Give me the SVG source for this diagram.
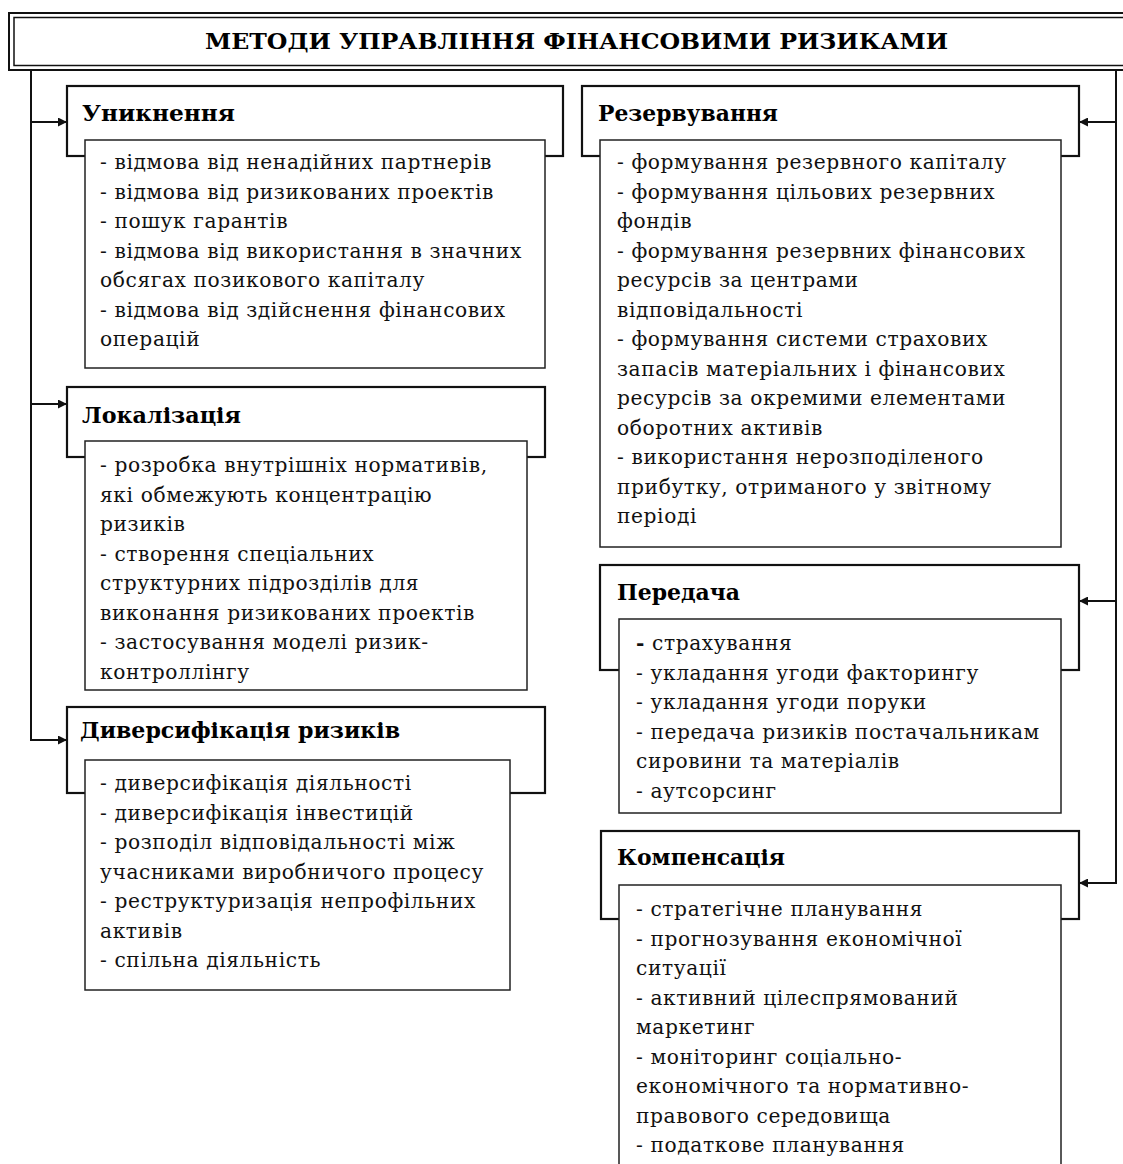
<svg xmlns="http://www.w3.org/2000/svg" width="1123" height="1164" viewBox="0 0 1123 1164">
  <defs>
    <marker id="arrow" viewBox="0 0 10 10" refX="10" refY="5" markerWidth="11" markerHeight="9" markerUnits="userSpaceOnUse" orient="auto">
      <path d="M0,0 L10,5 L0,10 Z" fill="#111"/>
    </marker>
    <style>
      .frame { fill: #fff; stroke: #111; stroke-width: 2.2; }
      .list { fill: #fff; stroke: #222; stroke-width: 1.5; }
      .title { font-family: "DejaVu Serif", "Liberation Serif", serif; font-weight: bold; font-size: 22px; fill: #000; }
      .head { font-family: "DejaVu Serif", "Liberation Serif", serif; font-weight: bold; font-size: 23px; fill: #000; }
      .item { font-family: "DejaVu Serif", "Liberation Serif", serif; font-size: 20.2px; letter-spacing: 0.6px; fill: #111; }
      .wire { fill: none; stroke: #111; stroke-width: 2; }
    </style>
  </defs>
  <rect width="1123" height="1164" fill="#fff"/>

  <!-- title -->
  <g id="title">
    <rect x="9" y="13" width="1200" height="57" fill="#fff" stroke="#111" stroke-width="2"/>
    <rect x="14" y="17.5" width="1200" height="48" fill="none" stroke="#111" stroke-width="1.5"/>
    <text class="title" x="205" y="49" textLength="743" lengthAdjust="spacingAndGlyphs">МЕТОДИ УПРАВЛІННЯ ФІНАНСОВИМИ РИЗИКАМИ</text>
  </g>

  <!-- connectors -->
  <g id="connectors" class="wire">
    <path d="M31,70 V740 H67" marker-end="url(#arrow)"/>
    <path d="M31,122 H67" marker-end="url(#arrow)"/>
    <path d="M31,404 H67" marker-end="url(#arrow)"/>
    <path d="M1116,70 V883 H1079" marker-end="url(#arrow)"/>
    <path d="M1116,122 H1079" marker-end="url(#arrow)"/>
    <path d="M1116,601 H1079" marker-end="url(#arrow)"/>
  </g>

  <g id="avoid">
    <rect class="frame" x="67" y="86" width="496" height="70"/>
    <text class="head" x="82" y="121" textLength="153" lengthAdjust="spacingAndGlyphs">Уникнення</text>
    <rect class="list" x="85" y="140" width="460" height="228"/>
    <text class="item">
      <tspan x="100" y="169">- відмова від ненадійних партнерів</tspan>
      <tspan x="100" y="198.5">- відмова від ризикованих проектів</tspan>
      <tspan x="100" y="228">- пошук гарантів</tspan>
      <tspan x="100" y="257.5">- відмова від використання в значних</tspan>
      <tspan x="100" y="287">обсягах позикового капіталу</tspan>
      <tspan x="100" y="316.5">- відмова від здійснення фінансових</tspan>
      <tspan x="100" y="346">операцій</tspan>
    </text>
  </g>

  <g id="localization">
    <rect class="frame" x="67" y="387" width="478" height="70"/>
    <text class="head" x="82" y="423" textLength="159" lengthAdjust="spacingAndGlyphs">Локалізація</text>
    <rect class="list" x="85" y="441" width="442" height="249"/>
    <text class="item">
      <tspan x="100" y="472">- розробка внутрішніх нормативів,</tspan>
      <tspan x="100" y="501.5">які обмежують концентрацію</tspan>
      <tspan x="100" y="531">ризиків</tspan>
      <tspan x="100" y="560.5">- створення спеціальних</tspan>
      <tspan x="100" y="590">структурних підрозділів для</tspan>
      <tspan x="100" y="619.5">виконання ризикованих проектів</tspan>
      <tspan x="100" y="649">- застосування моделі ризик-</tspan>
      <tspan x="100" y="678.5">контроллінгу</tspan>
    </text>
  </g>

  <g id="diversification">
    <rect class="frame" x="67" y="707" width="478" height="86"/>
    <text class="head" x="80" y="738" textLength="320" lengthAdjust="spacingAndGlyphs">Диверсифікація ризиків</text>
    <rect class="list" x="85" y="760" width="425" height="230"/>
    <text class="item">
      <tspan x="100" y="790">- диверсифікація діяльності</tspan>
      <tspan x="100" y="819.5">- диверсифікація інвестицій</tspan>
      <tspan x="100" y="849">- розподіл відповідальності між</tspan>
      <tspan x="100" y="878.5">учасниками виробничого процесу</tspan>
      <tspan x="100" y="908">- реструктуризація непрофільних</tspan>
      <tspan x="100" y="937.5">активів</tspan>
      <tspan x="100" y="967">- спільна діяльність</tspan>
    </text>
  </g>

  <g id="reserve">
    <rect class="frame" x="582" y="86" width="497" height="70"/>
    <text class="head" x="598" y="121" textLength="180" lengthAdjust="spacingAndGlyphs">Резервування</text>
    <rect class="list" x="600" y="140" width="461" height="407"/>
    <text class="item">
      <tspan x="617" y="169">- формування резервного капіталу</tspan>
      <tspan x="617" y="198.5">- формування цільових резервних</tspan>
      <tspan x="617" y="228">фондів</tspan>
      <tspan x="617" y="257.5">- формування резервних фінансових</tspan>
      <tspan x="617" y="287">ресурсів за центрами</tspan>
      <tspan x="617" y="316.5">відповідальності</tspan>
      <tspan x="617" y="346">- формування системи страхових</tspan>
      <tspan x="617" y="375.5">запасів матеріальних і фінансових</tspan>
      <tspan x="617" y="405">ресурсів за окремими елементами</tspan>
      <tspan x="617" y="434.5">оборотних активів</tspan>
      <tspan x="617" y="464">- використання нерозподіленого</tspan>
      <tspan x="617" y="493.5">прибутку, отриманого у звітному</tspan>
      <tspan x="617" y="523">періоді</tspan>
    </text>
  </g>

  <g id="transfer">
    <rect class="frame" x="600" y="565" width="479" height="105"/>
    <text class="head" x="617" y="600" textLength="123" lengthAdjust="spacingAndGlyphs">Передача</text>
    <rect class="list" x="619" y="619" width="442" height="194"/>
    <text class="item">
      <tspan x="636" y="650"><tspan font-weight="bold">-</tspan> страхування</tspan>
      <tspan x="636" y="679.5">- укладання угоди факторингу</tspan>
      <tspan x="636" y="709">- укладання угоди поруки</tspan>
      <tspan x="636" y="738.5">- передача ризиків постачальникам</tspan>
      <tspan x="636" y="768">сировини та матеріалів</tspan>
      <tspan x="636" y="797.5">- аутсорсинг</tspan>
    </text>
  </g>

  <g id="compensation">
    <rect class="frame" x="601" y="831" width="478" height="88"/>
    <text class="head" x="617" y="865" textLength="168" lengthAdjust="spacingAndGlyphs">Компенсація</text>
    <rect class="list" x="619" y="885" width="442" height="290"/>
    <text class="item">
      <tspan x="636" y="916">- стратегічне планування</tspan>
      <tspan x="636" y="945.5">- прогнозування економічної</tspan>
      <tspan x="636" y="975">ситуації</tspan>
      <tspan x="636" y="1004.5">- активний цілеспрямований</tspan>
      <tspan x="636" y="1034">маркетинг</tspan>
      <tspan x="636" y="1063.5">- моніторинг соціально-</tspan>
      <tspan x="636" y="1093">економічного та нормативно-</tspan>
      <tspan x="636" y="1122.5">правового середовища</tspan>
      <tspan x="636" y="1152">- податкове планування</tspan>
    </text>
  </g>
</svg>
